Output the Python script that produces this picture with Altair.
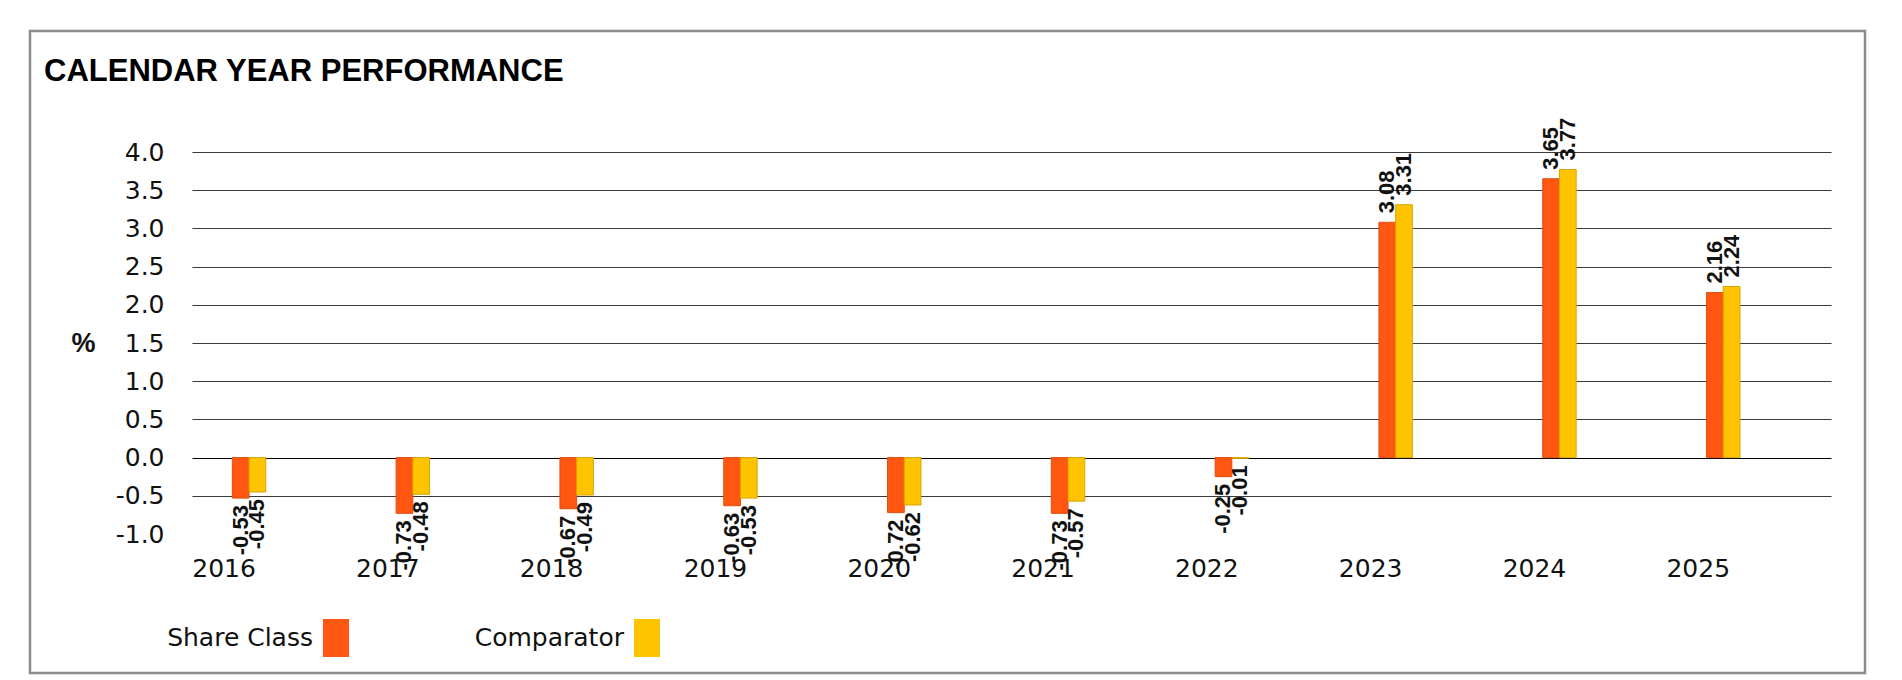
import altair as alt
import pandas as pd

years = ["2016", "2017", "2018", "2019", "2020", "2021", "2022", "2023", "2024", "2025"]
share_class = [-0.53, -0.73, -0.67, -0.63, -0.72, -0.73, -0.25, 3.08, 3.65, 2.16]
comparator = [-0.45, -0.48, -0.49, -0.53, -0.62, -0.57, -0.01, 3.31, 3.77, 2.24]
series_names = ["Share Class", "Comparator"]
series_colors = ["#FF5712", "#FFC400"]
series_strokes = ["#E24E10", "#D9A400"]
y_ticks = [-1.0, -0.5, 0.0, 0.5, 1.0, 1.5, 2.0, 2.5, 3.0, 3.5, 4.0]

rows = []
for name, vals in zip(series_names, [share_class, comparator]):
    for yr, v in zip(years, vals):
        rows.append({"year": yr, "series": name, "value": v, "label": f"{v:.2f}"})
df = pd.DataFrame(rows)

W, H = 1639, 382

x_enc = alt.X(
    "year:N", sort=years,
    scale=alt.Scale(paddingInner=0.796, paddingOuter=0.401, align=0.307),
    axis=alt.Axis(title=None, labelAngle=0, labelOffset=-25, labelPadding=42,
                  labelBaseline="alphabetic", ticks=False, tickSize=0, domain=False,
                  grid=False, labelFont="DejaVu Sans", labelFontSize=25,
                  labelColor="#111111"),
)
xoff = alt.XOffset("series:N", sort=series_names)
y_enc = alt.Y(
    "value:Q",
    scale=alt.Scale(domain=[-1, 4], nice=False, zero=False),
    axis=alt.Axis(
        values=y_ticks,
        labelExpr="replace(format(datum.value, '.1f'), '\u2212', '-')",
        title="%", titleAngle=0, titleX=-109, titleY=191, titleAlign="center",
        titleBaseline="middle", titleFont="Liberation Sans", titleFontWeight="bold",
        titleFontSize=27, titleColor="#111111",
        labelFont="DejaVu Sans", labelFontSize=25, labelPadding=28, labelColor="#111111",
        ticks=False, tickSize=0, domain=False, grid=True,
        gridColor={"condition": {"test": "datum.value == 0", "value": "#000000"}, "value": "#3a3a3a"},
        gridOpacity={"condition": {"test": "datum.value == -1", "value": 0}, "value": 1},
        gridWidth=1.2,
    ),
)

border = alt.Chart(pd.DataFrame({"a": [0]})).mark_rect(
    fill=None, stroke="#8c8c8c", strokeWidth=2.5
).encode(
    x=alt.value(-162), x2=alt.value(1673), y=alt.value(-121), y2=alt.value(521)
)

base = alt.Chart(df)

bars = base.mark_bar(strokeWidth=1).encode(
    x=x_enc, xOffset=xoff, y=y_enc, y2=alt.datum(0),
    color=alt.Color(
        "series:N", sort=series_names,
        scale=alt.Scale(domain=series_names, range=series_colors),
        legend=alt.Legend(
            title=None, orient="none", legendX=125, legendY=467, direction="horizontal",
            symbolType="M-0.684,-1H0.684V1H-0.684Z", symbolSize=1444, symbolStrokeWidth=0,
            labelAlign="right", labelOffset={"expr": "-42"}, labelFont="DejaVu Sans",
            labelFontSize=25, labelColor="#111111", labelLimit=300, columnPadding=125,
        ),
    ),
    stroke=alt.Stroke("series:N", sort=series_names,
                      scale=alt.Scale(domain=series_names, range=series_strokes), legend=None),
)

txt_kw = dict(angle=270, baseline="middle", font="Liberation Sans Narrow, Liberation Sans",
              fontWeight="bold", fontSize=22, color="#111111")
pos = base.transform_filter("datum.value >= 0").mark_text(align="left", dx=9, **txt_kw).encode(
    x=x_enc, xOffset=xoff, y=y_enc, text="label:N"
)
neg = base.transform_filter("datum.value < 0").mark_text(align="right", dx=-7, **txt_kw).encode(
    x=x_enc, xOffset=xoff, y=y_enc, text="label:N"
)

chart = alt.layer(border, bars, pos, neg).properties(
    width=W, height=H,
    autosize=alt.AutoSizeParams(type="none"),
    padding={"left": 184, "top": 144, "right": 50, "bottom": 141},
    title=alt.TitleParams(
        "CALENDAR YEAR PERFORMANCE", anchor="start", frame="group", dx=-148, offset=0, dy=82,
        font="Liberation Sans", fontWeight="bold", fontSize=31, color="#000000",
        baseline="alphabetic",
    ),
).configure_view(stroke=None)

chart.save("out.html", embed_options={"renderer": "svg", "actions": False})
